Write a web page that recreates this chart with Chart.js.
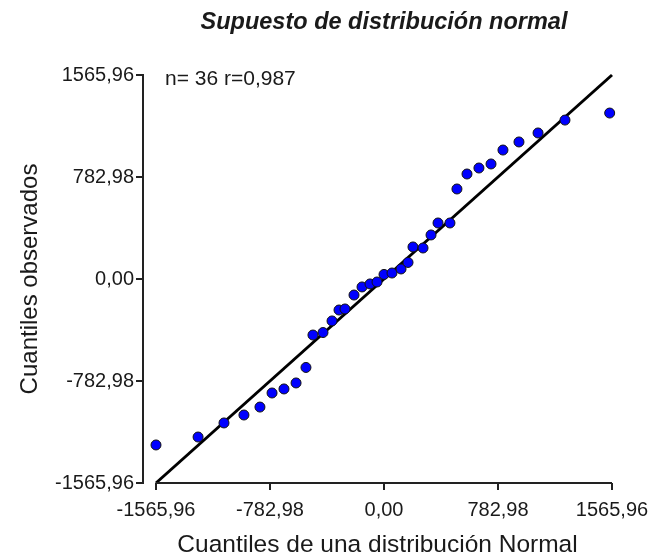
<!DOCTYPE html>
<html>
<head>
<meta charset="utf-8">
<script src="https://cdn.jsdelivr.net/npm/chart.js@4"></script>
<style>
  html, body { margin: 0; padding: 0; background: #fff; }
  #wrap { width: 650px; height: 556px; }
</style>
</head>
<body>
<div id="wrap"><canvas id="qq"></canvas></div>
<script>
'use strict';
// data
const theoretical = [
  -1566, -1277, -1099, -962, -852, -769, -687, -604, -536,
  -488, -419, -357, -309, -268, -206, -151, -96, -48,
  0, 55, 117, 165, 199, 268, 323, 371, 453,
  501, 570, 652, 735, 817, 927, 1058, 1243, 1550,
];
const observed = [
  -1274, -1213, -1105, -1044, -983, -875, -844, -798, -679,
  -430, -411, -322, -238, -230, -123, -61, -38, -23,
  35, 46, 77, 127, 246, 238, 338, 430, 430,
  691, 806, 852, 883, 990, 1052, 1121, 1220, 1274,
];
const refLineX = [-1565.96, 1565.96];
const refLineY = [-1565.96, 1565.96];
const tickValues = [-1565.96, -782.98, 0, 782.98, 1565.96];
const tickLabels = ['-1565,96', '-782,98', '0,00', '782,98', '1565,96'];
const titleText = 'Supuesto de distribución normal';
const statsText = 'n= 36 r=0,987';

const FONT = "'Liberation Sans', Arial, sans-serif";
const INK = '#1a1a1a';

const points = theoretical.map((x, i) => ({ x: x, y: observed[i] }));
const linePts = refLineX.map((x, i) => ({ x: x, y: refLineY[i] }));

const setTicks = scale => {
  scale.ticks = tickValues.map(v => ({ value: v }));
};
const fmtTick = function (value) {
  const i = tickValues.indexOf(value);
  return i >= 0 ? tickLabels[i] : '';
};

// x axis line only spans the tick range; title over the x range; stats text
const extras = {
  id: 'extras',
  afterDraw(chart) {
    const { ctx, scales } = chart;
    const xs = scales.x;
    const y0 = chart.chartArea.bottom;
    const xL = xs.getPixelForValue(tickValues[0]);
    const xR = xs.getPixelForValue(tickValues[tickValues.length - 1]);
    ctx.save();
    ctx.strokeStyle = '#222';
    ctx.lineWidth = 2;
    ctx.beginPath();
    ctx.moveTo(xL, y0);
    ctx.lineTo(xR, y0);
    ctx.stroke();

    ctx.fillStyle = INK;
    ctx.textBaseline = 'middle';
    ctx.textAlign = 'center';
    ctx.font = 'italic bold 23.5px ' + FONT;
    ctx.fillText(titleText, (xL + xR) / 2, 23);

    ctx.font = '21px ' + FONT;
    ctx.textAlign = 'left';
    ctx.fillText(statsText, 165, 79);
    ctx.restore();
  },
};

new Chart(document.getElementById('qq'), {
  type: 'scatter',
  data: {
    datasets: [
      {
        type: 'line',
        data: linePts,
        borderColor: '#000',
        borderWidth: 3,
        pointRadius: 0,
        fill: false,
        clip: false,
        order: 2,
      },
      {
        data: points,
        pointRadius: 5,
        pointBackgroundColor: '#0000ff',
        pointBorderColor: '#111',
        pointBorderWidth: 1,
        clip: false,
        order: 1,
      },
    ],
  },
  options: {
    responsive: true,
    maintainAspectRatio: false,
    animation: false,
    layout: { padding: { left: 0, right: 38, top: 75, bottom: 0 } },
    plugins: {
      legend: { display: false },
      tooltip: { enabled: false },
      title: { display: false },
    },
    scales: {
      x: {
        type: 'linear',
        min: -1655.25,
        max: 1565.96,
        afterBuildTicks: setTicks,
        afterFit: s => {
          s.height = 73;
          s.paddingLeft = 0;
          s.paddingRight = 0;
        },
        border: { display: false },
        grid: {
          drawOnChartArea: false,
          drawTicks: true,
          tickLength: 7,
          color: '#222',
          lineWidth: 2,
        },
        ticks: {
          callback: fmtTick,
          color: INK,
          font: { family: FONT, size: 20 },
          padding: 8,
          maxRotation: 0,
          autoSkip: false,
        },
        title: {
          display: true,
          text: 'Cuantiles de una distribución Normal',
          color: INK,
          font: { family: FONT, size: 24.5, lineHeight: 0.9 },
          padding: { top: 0, bottom: 0 },
        },
      },
      y: {
        type: 'linear',
        min: -1565.96,
        max: 1565.96,
        afterBuildTicks: setTicks,
        afterFit: s => {
          s.width = 143;
          s.paddingTop = 0;
          s.paddingBottom = 0;
        },
        border: { display: true, color: '#222', width: 2 },
        grid: {
          drawOnChartArea: false,
          drawTicks: true,
          tickLength: 7,
          color: '#222',
          lineWidth: 2,
        },
        ticks: {
          callback: fmtTick,
          color: INK,
          font: { family: FONT, size: 20 },
          padding: 2,
          autoSkip: false,
        },
        title: {
          display: true,
          text: 'Cuantiles observados',
          color: INK,
          font: { family: FONT, size: 24 },
          padding: { top: 16, bottom: 0 },
        },
      },
    },
  },
  plugins: [extras],
});
</script>
</body>
</html>
